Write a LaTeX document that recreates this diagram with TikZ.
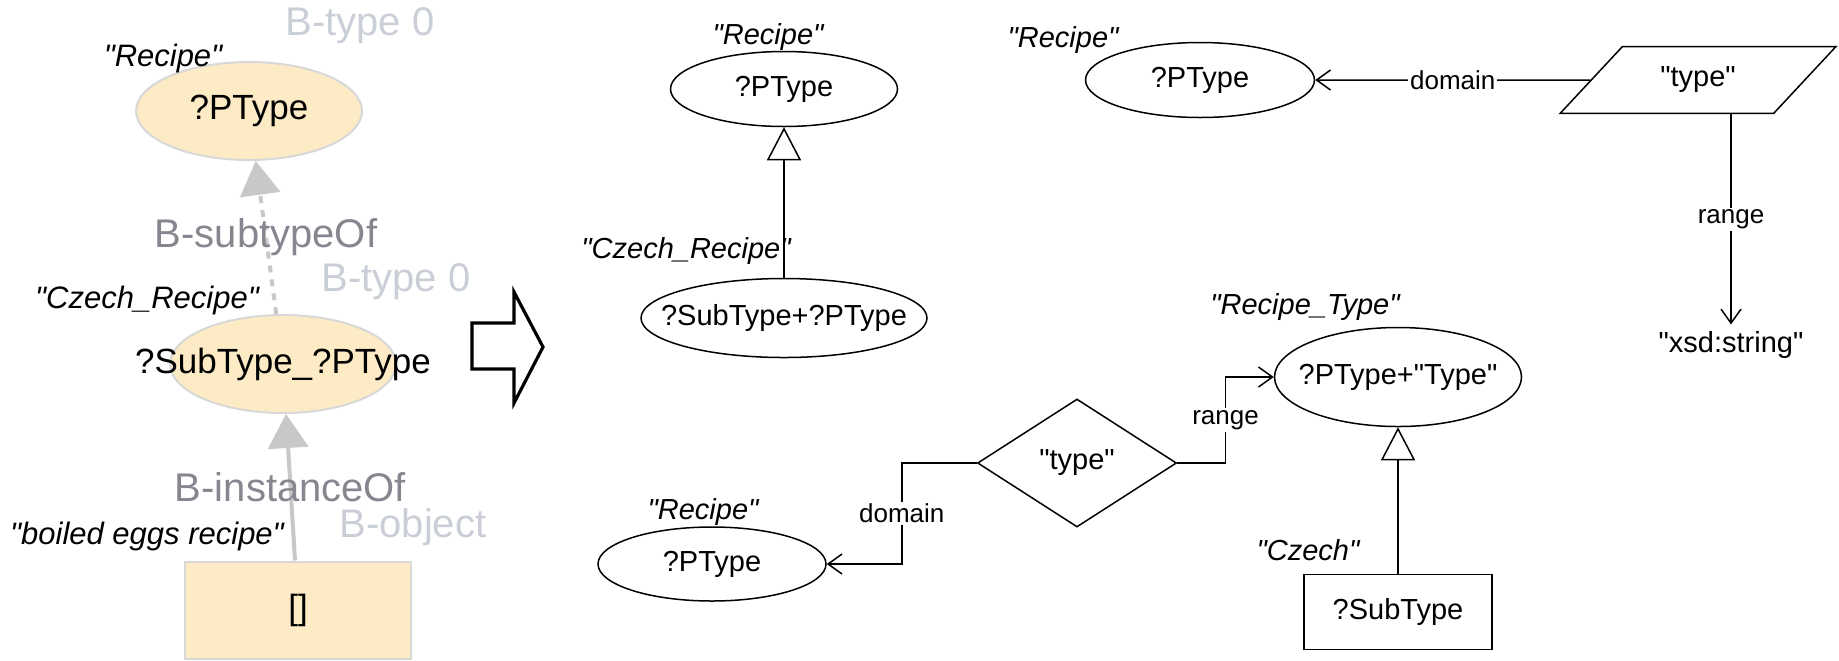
\documentclass[tikz,border=0pt]{standalone}
\usepackage{fontspec}
\setmainfont{Liberation Sans}[Ligatures=TeXOff]
\usetikzlibrary{arrows.meta, positioning, shapes.geometric, calc}

\definecolor{eggfill}{HTML}{FDEBC6}
\definecolor{egglines}{HTML}{D8D8D8}
\definecolor{bgray}{HTML}{C8C8C8}
\definecolor{breltext}{HTML}{86868F}
\definecolor{bpale}{HTML}{CACED6}

\newcommand{\zw}[1]{\makebox[0pt]{#1}}

\begin{document}
\begin{tikzpicture}[x=0.5pt, y=-0.5pt, on grid]
    \tikzstyle{bclass}=[ellipse, draw=egglines, line width=1pt, fill=eggfill, minimum width=113pt, minimum height=49pt, font=\fontsize{17.5}{21}\selectfont]
    \tikzstyle{bobj}=[rectangle, draw=egglines, line width=1pt, fill=eggfill, minimum width=113pt, minimum height=48.5pt, font=\fontsize{17.5}{21}\selectfont]
    \tikzstyle{btag}=[text=bpale, font=\fontsize{20}{24}\selectfont]
    \tikzstyle{brellbl}=[text=breltext, font=\fontsize{20}{24}\selectfont]
    \tikzstyle{llbl}=[font=\fontsize{15.5}{18}\selectfont\itshape]
    \tikzstyle{rlbl}=[font=\fontsize{14.5}{17}\selectfont\itshape]
    \tikzstyle{oclass}=[ellipse, draw, line width=0.75pt, minimum width=113.5pt, minimum height=37.5pt, font=\fontsize{14.5}{17}\selectfont]
    \tikzstyle{oinst}=[rectangle, draw, line width=0.75pt, minimum width=94pt, minimum height=37.5pt, font=\fontsize{14.5}{17}\selectfont]
    \tikzstyle{oprop}=[diamond, draw, line width=0.75pt, minimum width=99.5pt, minimum height=62.5pt, font=\fontsize{14.5}{17}\selectfont]
    \tikzstyle{odprop}=[trapezium, trapezium left angle=47, trapezium right angle=133, draw, line width=0.75pt, minimum width=138pt, minimum height=25pt, font=\fontsize{14.5}{17}\selectfont]
    \tikzstyle{oval}=[font=\fontsize{14.5}{17}\selectfont]
    \tikzstyle{elbl}=[fill=white, inner sep=1pt, font=\fontsize{13}{15}\selectfont]
    \tikzstyle{isa}=[line width=0.75pt, -{Triangle[open, width=17pt, length=16.5pt]}]
    \tikzstyle{rel}=[line width=0.75pt, -{Straight Barb[length=7pt, width=10pt]}]
    \tikzstyle{bline}=[draw=bgray, line width=2pt, -{Triangle[width=20pt, length=17pt]}]

    \useasboundingbox (0,0) rectangle (1839,660);

    % B-pattern on the left
    \node[bclass] (pt1) at (249,111) {\zw{?PType}};
    \node[bclass] [below right=126.5pt and 17pt of pt1] (sub1) {\zw{?SubType\_?PType}};
    \node[bobj] [below right=123pt and 7.5pt of sub1] (obj) {[]};

    \node[llbl] [above left=26.5pt and 43pt of pt1] (l1) {"Recipe"};
    \node[llbl] [above left=32pt and 68pt of sub1] (l2) {"Czech\_Recipe"};
    \node[llbl] [above left=37pt and 75.5pt of obj] (l3) {"boiled eggs recipe"};

    \node[btag] [above right=42.5pt and 55.5pt of pt1] (t1) {B-type 0};
    \node[btag] [above right=41pt and 56.5pt of sub1] (t2) {B-type 0};
    \node[btag] [above right=41.5pt and 57.5pt of obj] (t3) {B-object};

    \draw[bline, dash pattern=on 3.5pt off 3.5pt] (sub1) -- node[brellbl]{B-subtypeOf} (pt1);
    \draw[bline] (obj) -- node[brellbl]{B-instanceOf} (sub1);

    % transformation arrow
    \draw[line width=1.6pt, line join=miter] (472,323) -- (514,323) -- (514,292) -- (543,347)
        -- (514,403) -- (514,369) -- (472,369) -- cycle;

    % subclass
    \node[oclass] (pt2) at (784,89) {\zw{?PType}};
    \node[oclass, minimum width=143pt, minimum height=39.5pt] [below=114.5pt of pt2] (sub2) {\zw{?SubType+?PType}};
    \node[rlbl] [above left=26pt and 8pt of pt2] (l4) {"Recipe"};
    \node[rlbl] [above left=33.5pt and 49pt of sub2] (l5) {"Czech\_Recipe"};
    \draw[isa] (sub2) -- (pt2);

    % datatype property
    \node[oclass, minimum width=114.5pt] (pt3) at (1200,80) {\zw{?PType}};
    \node[odprop] [right=249pt of pt3] (prop1) {"type"};
    \node[oval] [below right=132.5pt and 16.5pt of prop1] (xsd) {"xsd:string"};
    \node[rlbl] [above left=20pt and 68.5pt of pt3] (l6) {"Recipe"};
    \draw[rel] (prop1) -- node[elbl]{domain} (pt3);
    \draw[rel] (prop1.south -| xsd) -- node[elbl]{range} (xsd);

    % object property
    \node[oprop] (pr2) at (1077,463) {"type"};
    \node[oclass, minimum width=114pt, minimum height=37pt] [below left=50.5pt and 182.5pt of pr2] (pt5) {\zw{?PType}};
    \node[oclass, minimum width=123.5pt, minimum height=49.5pt] [above right=43pt and 160.5pt of pr2] (pt4) {\zw{?PType+"Type"}};
    \node[oinst] [below=117.5pt of pt4] (subT) {?SubType};
    \node[rlbl] [above left=26pt and 4.5pt of pt5] (l9) {"Recipe"};
    \node[rlbl] [above left=35pt and 46.5pt of pt4] (l7) {"Recipe\_Type"};
    \node[rlbl] [above left=31pt and 45pt of subT] (l8) {"Czech"};

    \coordinate (dknee) at ($(pr2.west)!0.5!(pt5.east)$);
    \coordinate (rknee) at ($(pr2.east)!0.5!(pt4.west)$);
    \draw[rel] (pr2.west) -| (dknee) node[elbl]{domain} |- (pt5.east);
    \draw[rel] (pr2.east) -| (rknee) node[elbl]{range} |- (pt4.west);
    \draw[isa] (subT) -- (pt4);
\end{tikzpicture}
\end{document}
